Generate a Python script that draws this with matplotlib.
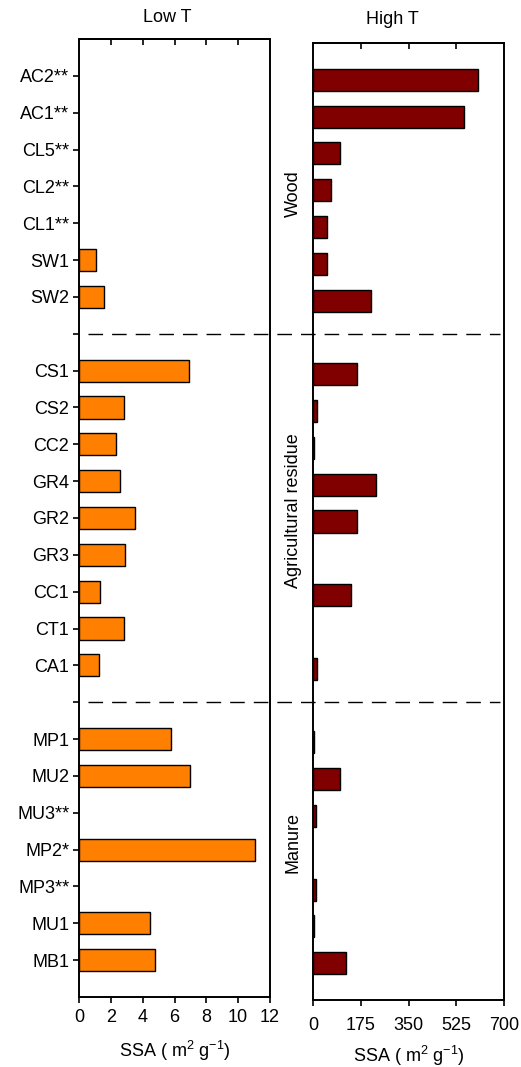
import numpy as np
import matplotlib
matplotlib.use("Agg")
import matplotlib.pyplot as plt
from matplotlib.lines import Line2D
from matplotlib.transforms import blended_transform_factory

plt.rcParams["font.family"] = ["Liberation Sans", "DejaVu Sans"]
plt.rcParams["mathtext.fontset"] = "custom"
plt.rcParams["mathtext.rm"] = "Liberation Sans"
plt.rcParams["mathtext.it"] = "Liberation Sans:italic"
plt.rcParams["lines.scale_dashes"] = False

# Samples from top to bottom; empty strings are the gaps between feedstock groups
samples = ["AC2**", "AC1**", "CL5**", "CL2**", "CL1**", "SW1", "SW2", "",
           "CS1", "CS2", "CC2", "GR4", "GR2", "GR3", "CC1", "CT1", "CA1", "",
           "MP1", "MU2", "MU3**", "MP2*", "MP3**", "MU1", "MB1"]

# Specific surface area (m2 g-1); NaN = not measured
ssa_low = [np.nan, np.nan, np.nan, np.nan, np.nan, 1.05, 1.6, np.nan,
           6.9, 2.8, 2.3, 2.6, 3.5, 2.9, 1.3, 2.8, 1.25, np.nan,
           5.75, 7.0, np.nan, 11.05, np.nan, 4.45, 4.75]
ssa_high = [604, 553, 100, 65, 50, 50, 212, np.nan,
            160, 16, 5, 231, 161, np.nan, 141, np.nan, 15, np.nan,
            5, 98, 10, np.nan, 10, 4, 120]

groups = ["Wood", "Agricultural residue", "Manure"]
group_centres = [3.2, 11.8, 20.8]
separators = [7, 17]

low_ticks = [0, 2, 4, 6, 8, 10, 12]
high_ticks = [0, 175, 350, 525, 700]

FS = 13
W, H = 521, 1067
fig = plt.figure(figsize=(W / 100, H / 100), dpi=100)

ax1 = fig.add_axes([79 / W, 1 - 997 / H, 191 / W, 958 / H])
ax2 = fig.add_axes([313 / W, 1 - 1000 / H, 191 / W, 957 / H])

pos = np.arange(len(samples))

ax1.barh(pos, ssa_low, height=0.6, color="#FF8000", edgecolor="black", linewidth=1.0)
ax2.barh(pos, ssa_high, height=0.6, color="#800000", edgecolor="black", linewidth=1.0)

for ax, ticks in ((ax1, low_ticks), (ax2, high_ticks)):
    ax.set_ylim(len(samples), -1)
    ax.set_xlim(ticks[0], ticks[-1])
    ax.set_xticks(ticks)
    ax.tick_params(axis="x", direction="out", length=4, width=1.2, labelsize=FS, pad=5)
    top = ax.secondary_xaxis("top")
    top.set_xticks(ticks[1:-1])
    top.tick_params(axis="x", direction="in", length=4, width=1.2, labelsize=0)
    top.set_xticklabels([])
    top.spines["top"].set_linewidth(1.4)
    for sp in ax.spines.values():
        sp.set_linewidth(1.4)

ax2.tick_params(axis="x", pad=8)

ax1.set_yticks(pos)
ax1.set_yticklabels(samples)
ax1.tick_params(axis="y", direction="out", length=4, width=1.2, labelsize=FS, pad=3)
ax2.set_yticks([])

ax1.set_xlabel("SSA ( m$^2$ g$^{-1}$)", fontsize=FS, labelpad=9)
ax2.set_xlabel("SSA ( m$^2$ g$^{-1}$)", fontsize=FS, labelpad=7.5)

fig.text(167 / W, 1 - 17 / H, "Low T", ha="center", va="center", fontsize=FS)
fig.text(392 / W, 1 - 20 / H, "High T", ha="center", va="center", fontsize=FS)

# Group names between the panels
for name, yc in zip(groups, group_centres):
    ax1.text(293 / W, yc, name, rotation=90, ha="center", va="center", fontsize=FS,
             transform=blended_transform_factory(fig.transFigure, ax1.transData))

# Dashed separators running across both panels
tr = blended_transform_factory(fig.transFigure, ax1.transData)
for s in separators:
    ln = Line2D([88 / W, 500 / W], [s, s], transform=tr, color="black",
                linewidth=1.0, dashes=(10.5, 6.5))
    fig.add_artist(ln)

fig.savefig("out.png", dpi=100)
